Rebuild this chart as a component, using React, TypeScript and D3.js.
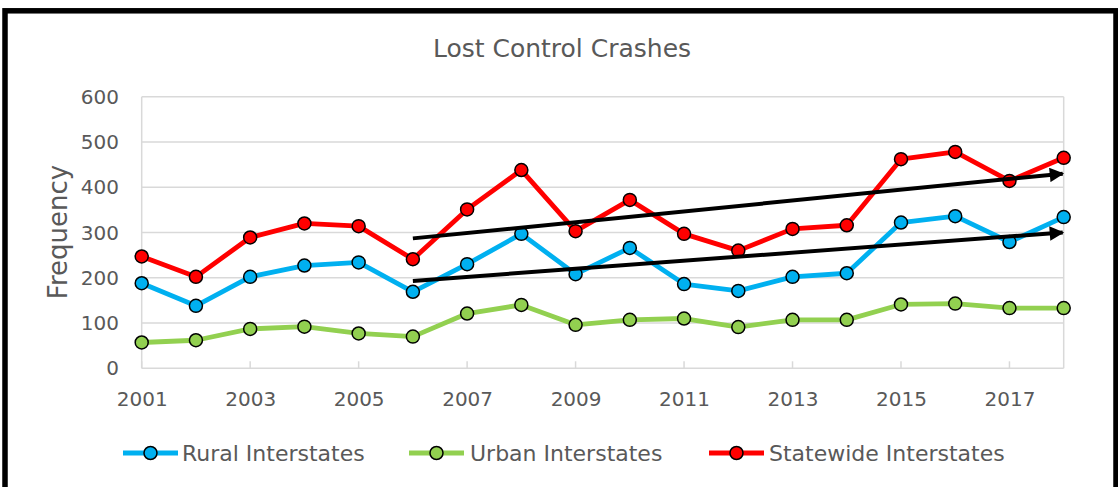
import React from "react";
import * as d3 from "d3";

const years = [2001, 2002, 2003, 2004, 2005, 2006, 2007, 2008, 2009, 2010, 2011, 2012, 2013, 2014, 2015, 2016, 2017, 2018];
const rural = [188, 138, 202, 227, 234, 169, 230, 297, 208, 266, 186, 171, 202, 210, 322, 336, 279, 334];
const urban = [57, 62, 87, 92, 77, 70, 121, 140, 96, 107, 110, 91, 107, 107, 141, 143, 133, 133];
const statewide = [247, 202, 289, 320, 314, 241, 351, 438, 303, 372, 297, 260, 308, 316, 462, 478, 414, 465];
const yTicks = [0, 100, 200, 300, 400, 500, 600];
const xTickYears = [2001, 2003, 2005, 2007, 2009, 2011, 2013, 2015, 2017];
// trend arrows: [startYear, startValue, endYear, endValue]
const trendUpper = [2006, 287, 2018, 430];
const trendLower = [2006, 193, 2018, 300];

const series = [
  { name: "Rural Interstates", values: rural, color: "#00B0F0" },
  { name: "Urban Interstates", values: urban, color: "#92D050" },
  { name: "Statewide Interstates", values: statewide, color: "#FF0000" },
];

const FONT = "'DejaVu Sans', sans-serif";
const TEXT = "#595959";

export default function App() {
  const x = d3.scalePoint<number>().domain(years).range([141.7, 1063.7]);
  const y = d3.scaleLinear().domain([0, 600]).range([368.3, 96.7]);
  const line = d3
    .line<number>()
    .x((_, i) => x(years[i]) as number)
    .y((d) => y(d));

  const legendItems = [
    { lx: 123, tx: 182 },
    { lx: 409, tx: 470 },
    { lx: 709, tx: 769 },
  ];

  const arrows = [trendUpper, trendLower];

  return (
    <svg
      width={1118}
      height={487}
      style={{ position: "absolute", left: 0, top: 0, background: "#fff" }}
    >
      <defs>
        <marker
          id="arrowhead"
          viewBox="0 0 10 10"
          refX={9}
          refY={5}
          markerWidth={4}
          markerHeight={3.6}
          orient="auto"
          markerUnits="strokeWidth"
        >
          <path d="M0,0 L10,5 L0,10 Z" fill="#000" />
        </marker>
      </defs>
      {/* outer frame */}
      <rect x={5} y={10.8} width={1111} height={490} fill="none" stroke="#000" strokeWidth={5.5} />

      {/* title */}
      <text x={562} y={57} textAnchor="middle" fontFamily={FONT} fontSize={25} fill={TEXT}>
        Lost Control Crashes
      </text>

      {/* gridlines */}
      {yTicks.map((t) => (
        <line key={t} x1={141.7} x2={1063.7} y1={y(t)} y2={y(t)} stroke="#D9D9D9" strokeWidth={1.5} />
      ))}
      <line x1={141.7} x2={141.7} y1={y(600)} y2={y(0)} stroke="#D9D9D9" strokeWidth={1.5} />
      <line x1={1063.7} x2={1063.7} y1={y(600)} y2={y(0)} stroke="#D9D9D9" strokeWidth={1.5} />
      {xTickYears.map((yr) => (
        <line
          key={yr}
          x1={x(yr)}
          x2={x(yr)}
          y1={y(0) - 7}
          y2={y(0)}
          stroke="#D9D9D9"
          strokeWidth={1.5}
        />
      ))}

      {/* y tick labels */}
      {yTicks.map((t) => (
        <text
          key={t}
          x={119}
          y={y(t) + 7}
          textAnchor="end"
          fontFamily={FONT}
          fontSize={20}
          fill={TEXT}
        >
          {t}
        </text>
      ))}

      {/* x tick labels */}
      {xTickYears.map((yr) => (
        <text
          key={yr}
          x={(x(yr) as number) + 0.5}
          y={406}
          textAnchor="middle"
          fontFamily={FONT}
          fontSize={20}
          fill={TEXT}
        >
          {yr}
        </text>
      ))}

      {/* y axis title */}
      <text
        transform={`translate(67,232) rotate(-90)`}
        textAnchor="middle"
        fontFamily={FONT}
        fontSize={26}
        fill={TEXT}
      >
        Frequency
      </text>

      {/* series */}
      {series.map((s) => (
        <g key={s.name}>
          <path d={line(s.values) || ""} fill="none" stroke={s.color} strokeWidth={4.8} strokeLinejoin="round" />
          {s.values.map((v, i) => (
            <circle
              key={i}
              cx={x(years[i])}
              cy={y(v)}
              r={6.5}
              fill={s.color}
              stroke="#000"
              strokeWidth={1.5}
            />
          ))}
        </g>
      ))}

      {/* trend arrows */}
      {arrows.map((a, i) => (
        <line
          key={i}
          x1={x(a[0])}
          y1={y(a[1])}
          x2={(x(a[2]) as number) - 1}
          y2={y(a[3])}
          stroke="#000"
          strokeWidth={4}
          markerEnd="url(#arrowhead)"
        />
      ))}

      {/* legend */}
      {series.map((s, i) => (
        <g key={s.name}>
          <line
            x1={legendItems[i].lx}
            x2={legendItems[i].lx + 55}
            y1={453}
            y2={453}
            stroke={s.color}
            strokeWidth={4.8}
          />
          <circle cx={legendItems[i].lx + 27.5} cy={453} r={6.5} fill={s.color} stroke="#000" strokeWidth={1.5} />
          <text
            x={legendItems[i].tx}
            y={461}
            fontFamily={FONT}
            fontSize={22}
            fill={TEXT}
          >
            {s.name}
          </text>
        </g>
      ))}
    </svg>
  );
}
